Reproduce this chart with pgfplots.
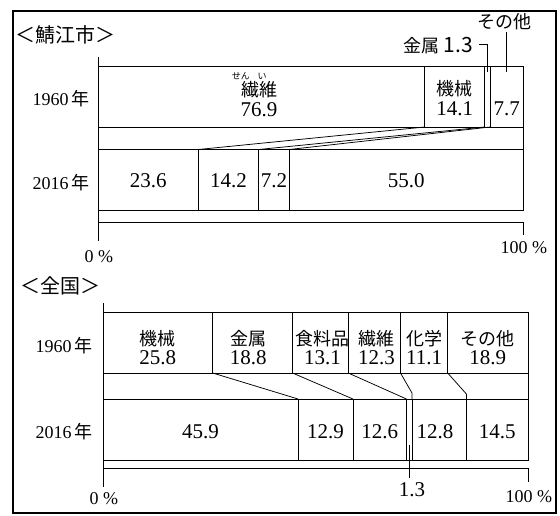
\documentclass[border=0pt]{standalone}
\usepackage{fontspec}
\setmainfont{Liberation Serif}
\newfontfamily\jp{Noto Sans CJK JP}
\usepackage{pgfplots}
\pgfplotsset{compat=1.18}

\pgfplotsset{
  base/.style={scale only axis, width=425pt, height=210pt,
    xmin=0, xmax=100, hide axis, clip=false, anchor=south west},
  c1/.style={ymin=-250, ymax=-40, at={(98pt,-250pt)}},
  c2/.style={ymin=-496, ymax=-286, at={(103pt,-496pt)}},
  seg/.style={draw=black, fill=white, line width=0.75pt},
  ln/.style={black, line width=0.75pt},
}
\newcommand\num{\fontsize{21}{21}\selectfont}
\newcommand\lab{\jp\fontsize{18}{18}\selectfont}
\newcommand\yr{\fontsize{18}{18}\selectfont}

\begin{document}
\begin{tikzpicture}
\useasboundingbox (0pt,0pt) rectangle (560pt,-516pt);
\draw[line width=1.6pt] (13pt,-11pt) rectangle (556pt,-513pt);

% ---- 鯖江市: bars
\begin{axis}[base, c1, xbar stacked, bar width=61]
\addplot[seg] coordinates {(76.9,-96.5) (23.6,-180)};   % 繊維
\addplot[seg] coordinates {(14.1,-96.5) (14.2,-180)};   % 機械
\addplot[seg] coordinates {(1.3,-96.5) (7.2,-180)};     % 金属
\addplot[seg] coordinates {(7.7,-96.5) (55.0,-180)};    % その他
\end{axis}

% ---- 鯖江市: lines and labels
\begin{axis}[base, c1]
\addplot[ln] coordinates {(0,-57) (0,-241)};
\addplot[ln] coordinates {(0,-222) (100,-222) (100,-235)};
\addplot[ln] coordinates {(76.9,-127) (23.6,-149.5)};
\addplot[ln] coordinates {(91.0,-127) (37.8,-149.5)};
\addplot[ln] coordinates {(92.3,-127) (45.0,-149.5)};
\addplot[ln] coordinates {(100,-127) (100,-149.5)};
% leaders
\addplot[ln] coordinates {(89.6,-44) (91.65,-44) (91.65,-72)};
\addplot[ln] coordinates {(96.15,-32) (96.15,-72)};

\node[font=\jp\fontsize{9}{9}\selectfont] at (axis cs:33.6,-76) {せん};
\node[font=\jp\fontsize{9}{9}\selectfont] at (axis cs:38.6,-76) {い};
\node[font=\lab] at (axis cs:37.9,-90) {繊維};
\node[font=\num] at (axis cs:37.9,-110) {76.9};
\node[font=\lab] at (axis cs:83.95,-89) {機械};
\node[font=\num] at (axis cs:83.95,-109) {14.1};
\node[font=\num] at (axis cs:96.15,-109) {7.7};
\node[font=\num] at (axis cs:11.8,-181) {23.6};
\node[font=\num] at (axis cs:30.7,-181) {14.2};
\node[font=\num] at (axis cs:41.4,-181) {7.2};
\node[font=\num] at (axis cs:72.5,-181) {55.0};
\node[anchor=east, inner xsep=0pt] at (axis cs:88.3,-46) {\lab 金属\ \num 1.3};
\node[font=\lab] at (axis cs:95.7,-22) {その他};
\node[font=\yr] at (axis cs:0.2,-257) {0 \%};
\node[font=\yr] at (axis cs:100.2,-248) {100 \%};
\end{axis}

% ---- 全国: bars
\begin{axis}[base, c2, xbar stacked, bar width=61]
\addplot[seg] coordinates {(25.8,-342.5) (45.9,-429.5)};  % 機械
\addplot[seg] coordinates {(18.8,-342.5) (12.9,-429.5)};  % 金属
\addplot[seg] coordinates {(13.1,-342.5) (12.6,-429.5)};  % 食料品
\addplot[seg] coordinates {(12.3,-342.5) (1.3,-429.5)};   % 繊維
\addplot[seg] coordinates {(11.1,-342.5) (12.8,-429.5)};  % 化学
\addplot[seg] coordinates {(18.9,-342.5) (14.5,-429.5)};  % その他
\end{axis}

% ---- 全国: lines and labels
\begin{axis}[base, c2]
\addplot[ln] coordinates {(0,-303) (0,-487)};
\addplot[ln] coordinates {(0,-468) (100,-468) (100,-482)};
\addplot[ln] coordinates {(25.8,-373) (45.9,-399)};
\addplot[ln] coordinates {(44.6,-373) (58.8,-399)};
\addplot[ln] coordinates {(57.7,-373) (71.4,-399)};
\addplot[ln] coordinates {(70.0,-373) (72.7,-393) (72.7,-399)};
\addplot[ln] coordinates {(81.1,-373) (85.5,-394) (85.5,-399)};
\addplot[ln] coordinates {(100,-373) (100,-399)};
\addplot[ln] coordinates {(72.05,-445) (72.05,-478)};

\node[font=\lab] at (axis cs:12.9,-339) {機械};
\node[font=\num] at (axis cs:12.9,-358) {25.8};
\node[font=\lab] at (axis cs:34.2,-339) {金属};
\node[font=\num] at (axis cs:34.2,-358) {18.8};
\node[font=\lab] at (axis cs:51.65,-339) {食料品};
\node[font=\num] at (axis cs:51.65,-358) {13.1};
\node[font=\lab] at (axis cs:64.35,-339) {繊維};
\node[font=\num] at (axis cs:64.35,-358) {12.3};
\node[font=\lab] at (axis cs:75.55,-339) {化学};
\node[font=\num] at (axis cs:75.55,-358) {11.1};
\node[font=\lab] at (axis cs:90.55,-339) {その他};
\node[font=\num] at (axis cs:90.55,-358) {18.9};
\node[font=\num] at (axis cs:22.95,-432) {45.9};
\node[font=\num] at (axis cs:52.35,-432) {12.9};
\node[font=\num] at (axis cs:65.1,-432) {12.6};
\node[font=\num] at (axis cs:78.1,-432) {12.8};
\node[font=\num] at (axis cs:92.75,-432) {14.5};
\node[font=\num] at (axis cs:72.7,-490) {1.3};
\node[font=\yr] at (axis cs:0.2,-499) {0 \%};
\node[font=\yr] at (axis cs:100.2,-497) {100 \%};
\end{axis}

% titles and year labels
\node[font=\jp\fontsize{20}{20}\selectfont] at (66pt,-35pt) {＜鯖江市＞};
\node[font=\jp\fontsize{20}{20}\selectfont] at (60pt,-286pt) {＜全国＞};
\node at (61pt,-99pt) {\yr 1960\,\jp 年};
\node at (61pt,-183pt) {\yr 2016\,\jp 年};
\node at (64pt,-346pt) {\yr 1960\,\jp 年};
\node at (64pt,-432pt) {\yr 2016\,\jp 年};
\end{tikzpicture}
\end{document}
